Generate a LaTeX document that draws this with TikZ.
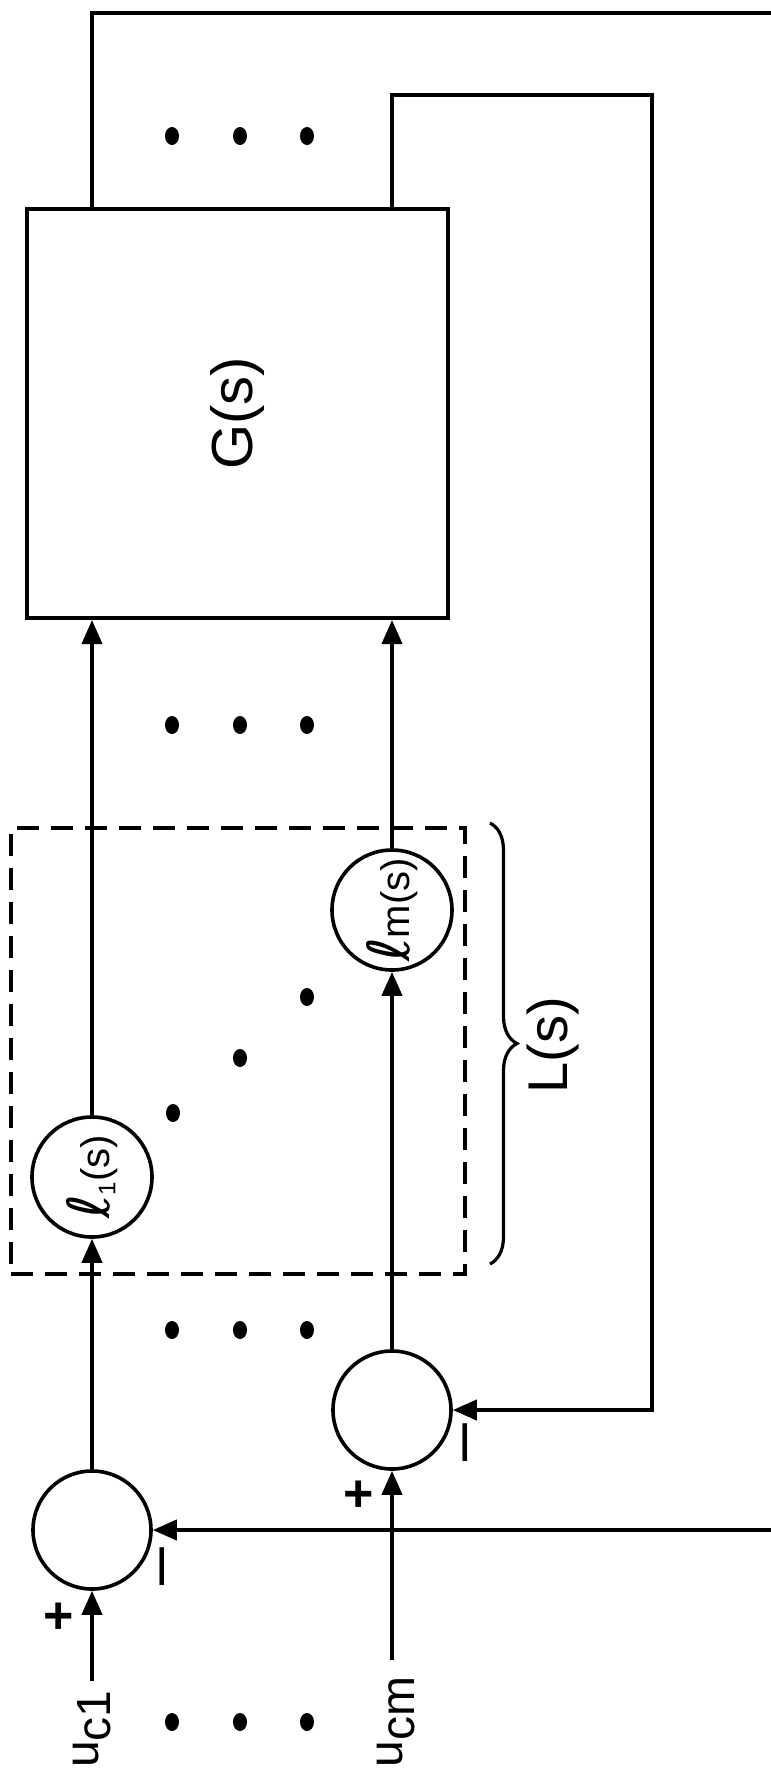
\documentclass[tikz,border=0pt]{standalone}
\usepackage{fontspec}
\setmainfont{Liberation Sans}
\newfontfamily\ellfont{DejaVu Sans}
\usetikzlibrary{arrows.meta,decorations.pathreplacing,calc}
\begin{document}
\begin{tikzpicture}[x=0.5pt,y=-0.5pt,
  wire/.style={line width=2pt},
  arr/.style={wire,-{Triangle[length=12pt,width=10pt]}},
  blk/.style={draw,line width=2pt,rectangle,inner sep=0pt},
  circ/.style={draw,circle,line width=1.8pt,inner sep=0pt,minimum size=60pt},
  lbl/.style={inner sep=0pt},
  dotmark/.style={fill=black}]
\fill[white] (0,0) rectangle (771,1774);
\useasboundingbox (0,0) rectangle (771,1774);
% plant block
\node[blk,minimum width=210.5pt,minimum height=204.5pt] (G) at (237.5,413.5)
  {\rotatebox{90}{\fontsize{29}{29}\selectfont G(s)}};
% L(s) elements
\node[circ] (l1) at (92,1177)
  {\rotatebox{90}{\fontsize{20}{20}\selectfont{\ellfont\scalebox{1.45}{ℓ}}\raisebox{-3pt}{\fontsize{12}{12}\selectfont 1}(s)}};
\node[circ] (lm) at (392,910)
  {\rotatebox{90}{\fontsize{20}{20}\selectfont{\ellfont\scalebox{1.45}{ℓ}}m(s)}};
% summing junctions
\node[circ,minimum size=59pt] (s1) at (92,1530) {};
\node[circ,minimum size=59pt] (sm) at (392,1410) {};
% inputs
\coordinate (in1) at (92,1681);
\coordinate (inm) at (392,1660);
\node[lbl] (uc1) at (92,1729)
  {\rotatebox{90}{\fontsize{24}{24}\selectfont u\raisebox{-6pt}{c1}}};
\node[lbl] (ucm) at (396,1722)
  {\rotatebox{90}{\fontsize{24}{24}\selectfont u\raisebox{-6pt}{cm}}};
\coordinate (tr) at (771,13);
\coordinate (fb1) at (771,1530);
\coordinate (c2) at (652,95);
% connectors
\draw[arr] (in1) -- (s1.south);
\draw[arr] (s1.north) -- (l1.south);
\draw[arr] (l1.north) -- (l1 |- G.south);
\draw[arr] (inm) -- (sm.south);
\draw[arr] (sm.north) -- (lm.south);
\draw[arr] (lm.north) -- (lm |- G.south);
\draw[wire] (l1 |- G.north) |- (tr);
\draw[arr] (fb1) -- (fb1 -| s1.east);
\draw[arr] (lm |- G.north) |- (c2) |- (sm.east);
% signs
\node[lbl] (p1) at (59,1618) {\fontsize{26}{26}\selectfont\bfseries +};
\node[lbl] (pm) at (359,1496) {\fontsize{26}{26}\selectfont\bfseries +};
\node[lbl] (m1) at (170,1567) {\rotatebox{90}{\fontsize{34}{34}\selectfont –}};
\node[lbl] (mm) at (473,1443) {\rotatebox{90}{\fontsize{34}{34}\selectfont –}};
% dashed L(s) box and brace
\node[draw,line width=1.7pt,dash pattern=on 11pt off 6pt,minimum width=227pt,minimum height=223pt,inner sep=0pt] (Lbox) at (238,1051) {};
\draw[line width=1.6pt,decorate,decoration={brace,amplitude=13.5pt}] (490,823) -- (490,1264);
\node[lbl] (Ls) at (553,1045) {\rotatebox{90}{\fontsize{28}{28}\selectfont L(s)}};
% dots
\foreach \yy in {136,725,1330,1722}
  \foreach \xx in {172,240,307}
    \fill[dotmark] (\xx,\yy) ellipse [x radius=3.5pt,y radius=4.5pt];
\foreach \xx/\yy in {307/997,240/1058,173/1113}
  \fill[dotmark] (\xx,\yy) ellipse [x radius=3.5pt,y radius=4.5pt];
\end{tikzpicture}
\end{document}
